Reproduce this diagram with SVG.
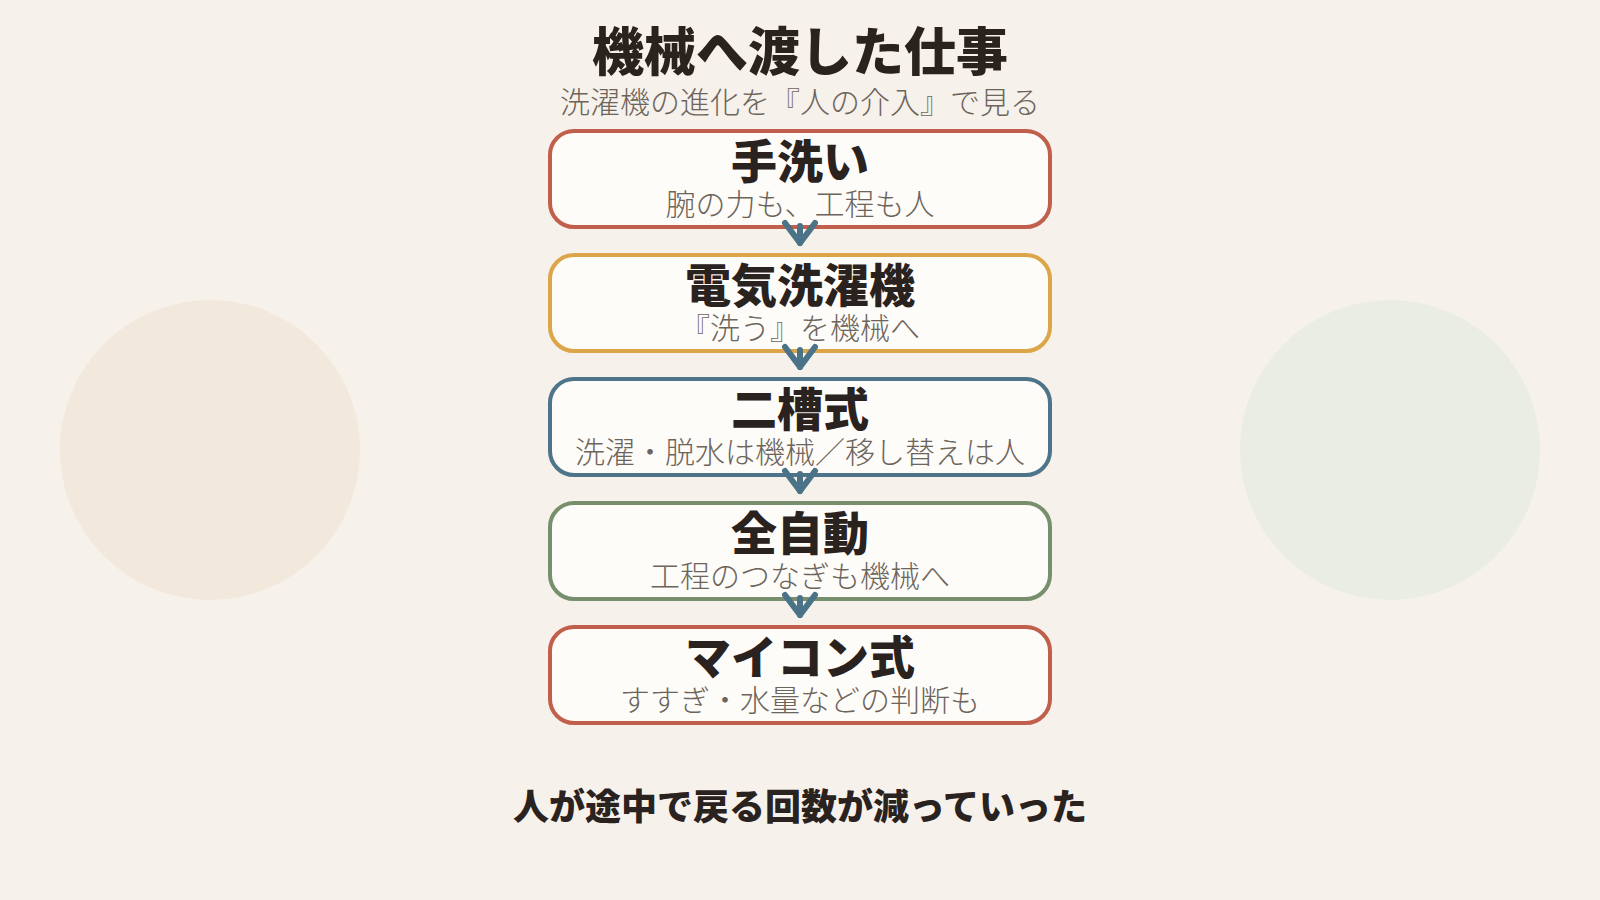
<svg xmlns="http://www.w3.org/2000/svg" width="1600" height="900" viewBox="0 0 1600 900">
  <style>
    .ttl { font-family: "Noto Sans CJK JP", "Noto Sans", sans-serif; font-weight: 900; fill: #2a221e; text-anchor: middle; }
    .sub { font-family: "Noto Sans CJK JP", "Noto Sans", sans-serif; font-weight: 300; fill: #6d645c; text-anchor: middle; }
    .box { fill: #fdfcf8; stroke-width: 4; }
    .conn { stroke: #4b7387; stroke-width: 6; stroke-linecap: round; fill: none; }
  </style>
  <defs>
    <marker id="chev" markerUnits="userSpaceOnUse" markerWidth="50" markerHeight="50" viewBox="-25 -25 50 50" refX="0" refY="0" orient="auto" overflow="visible">
      <path d="M-20,-15 L0,0 L-20,15" fill="none" stroke="#4b7387" stroke-width="6" stroke-linecap="round" stroke-linejoin="round"/>
    </marker>
  </defs>
  <rect x="0" y="0" width="1600" height="900" fill="#f6f1ea"/>
  <circle cx="210" cy="450" r="150" fill="#f2e8dc"/>
  <circle cx="1390" cy="450" r="150" fill="#e9ede4"/>

  <g id="header">
    <text class="ttl" x="800" y="71" font-size="52">機械へ渡した仕事</text>
    <text class="sub" x="800" y="113" font-size="30">洗濯機の進化を『人の介入』で見る</text>
  </g>

  <g id="node1">
    <rect class="box" x="550" y="131" width="500" height="96" rx="24" stroke="#c0604c"/>
    <text class="ttl" x="800" y="178" font-size="46">手洗い</text>
    <text class="sub" x="800" y="215" font-size="30">腕の力も、工程も人</text>
  </g>
  <g id="node2">
    <rect class="box" x="550" y="255" width="500" height="96" rx="24" stroke="#dca547"/>
    <text class="ttl" x="800" y="302" font-size="46">電気洗濯機</text>
    <text class="sub" x="800" y="339" font-size="30">『洗う』を機械へ</text>
  </g>
  <g id="node3">
    <rect class="box" x="550" y="379" width="500" height="96" rx="24" stroke="#4d7488"/>
    <text class="ttl" x="800" y="426" font-size="46">二槽式</text>
    <text class="sub" x="800" y="463" font-size="30">洗濯・脱水は機械／移し替えは人</text>
  </g>
  <g id="node4">
    <rect class="box" x="550" y="503" width="500" height="96" rx="24" stroke="#778f6d"/>
    <text class="ttl" x="800" y="550" font-size="46">全自動</text>
    <text class="sub" x="800" y="587" font-size="30">工程のつなぎも機械へ</text>
  </g>
  <g id="node5">
    <rect class="box" x="550" y="627" width="500" height="96" rx="24" stroke="#c0604c"/>
    <text class="ttl" x="800" y="674" font-size="46">マイコン式</text>
    <text class="sub" x="800" y="711" font-size="30">すすぎ・水量などの判断も</text>
  </g>

  <g id="connectors">
    <line class="conn" x1="800" y1="226" x2="800" y2="243" marker-end="url(#chev)"/>
    <line class="conn" x1="800" y1="350" x2="800" y2="367" marker-end="url(#chev)"/>
    <line class="conn" x1="800" y1="474" x2="800" y2="491" marker-end="url(#chev)"/>
    <line class="conn" x1="800" y1="598" x2="800" y2="615" marker-end="url(#chev)"/>
  </g>

  <g id="footer">
    <text class="ttl" x="800" y="820" font-size="36">人が途中で戻る回数が減っていった</text>
  </g>
</svg>
